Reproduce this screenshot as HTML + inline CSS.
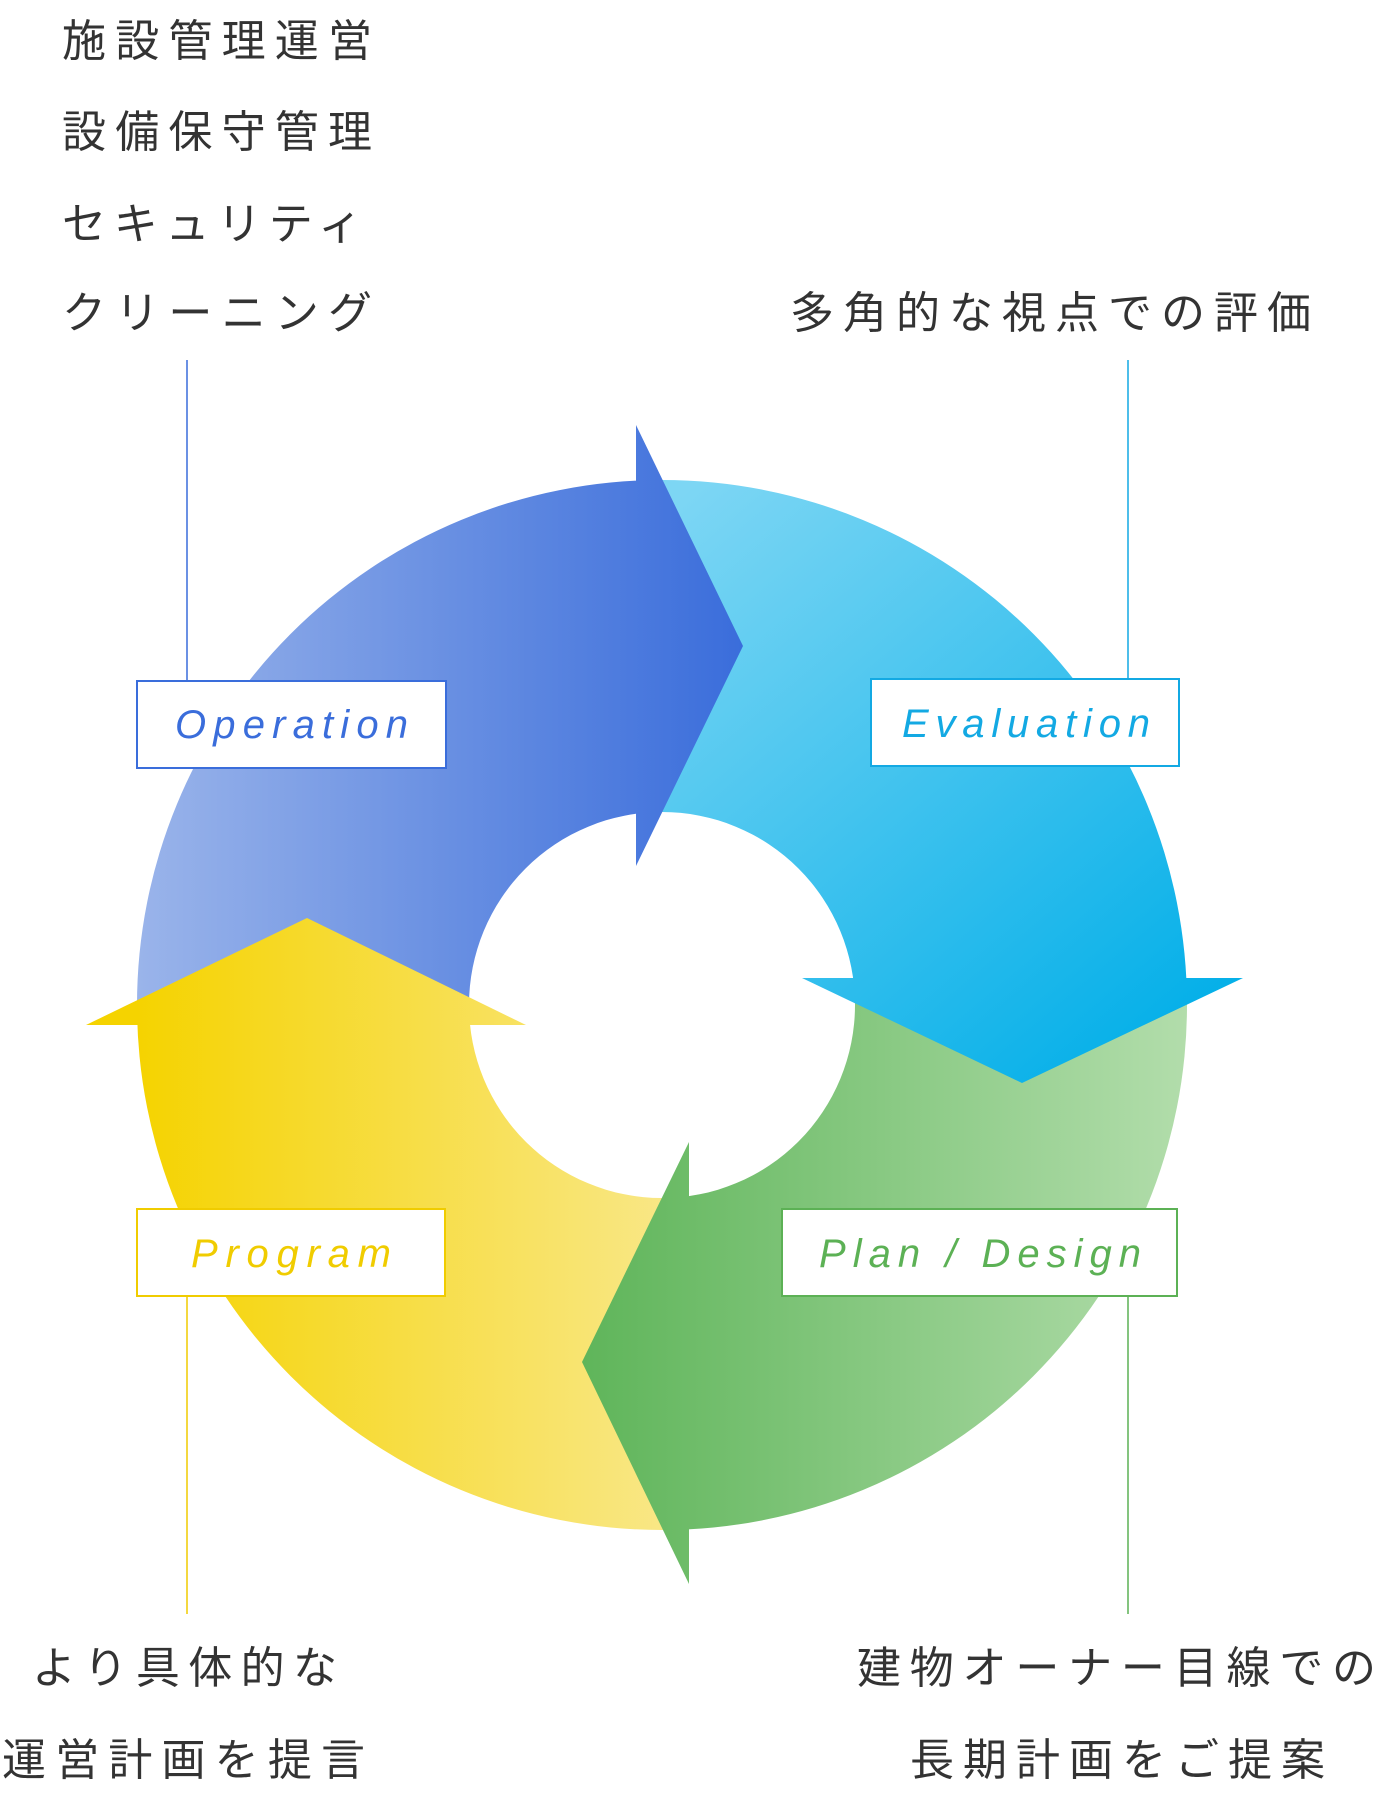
<!DOCTYPE html>
<html><head><meta charset="utf-8"><style>
html,body{margin:0;padding:0;background:#fff;}
svg{display:block;}
.jp{font-family:"Liberation Sans","Noto Sans CJK JP",sans-serif;font-size:44px;fill:#333;}
.en{font-family:"Liberation Sans",sans-serif;font-style:italic;font-size:40px;}
</style></head><body>
<svg width="1382" height="1796" viewBox="0 0 1382 1796" xmlns="http://www.w3.org/2000/svg">
<defs>
<clipPath id="ring" clip-rule="evenodd">
<path clip-rule="evenodd" d="M137,1005a525,525 0 1,0 1050,0a525,525 0 1,0 -1050,0Z M469,1005a193,193 0 1,0 386,0a193,193 0 1,0 -386,0Z"/>
</clipPath>
<linearGradient id="gb" gradientUnits="userSpaceOnUse" x1="137" y1="0" x2="743" y2="0"><stop offset="0" stop-color="#9ab4ea"/><stop offset="1" stop-color="#3a6ddb"/></linearGradient>
<linearGradient id="gc" gradientUnits="userSpaceOnUse" x1="700" y1="480" x2="1187" y2="1060"><stop offset="0" stop-color="#7dd6f4"/><stop offset="1" stop-color="#00aee8"/></linearGradient>
<linearGradient id="gg" gradientUnits="userSpaceOnUse" x1="582" y1="0" x2="1187" y2="0"><stop offset="0" stop-color="#5fb55a"/><stop offset="1" stop-color="#b2ddab"/></linearGradient>
<linearGradient id="gy" gradientUnits="userSpaceOnUse" x1="137" y1="0" x2="689" y2="0"><stop offset="0" stop-color="#f5d300"/><stop offset="1" stop-color="#f9e88c"/></linearGradient>
</defs>
<g clip-path="url(#ring)">
<rect x="0" y="0" width="636" height="1025" fill="url(#gb)"/>
<rect x="636" y="0" width="746" height="978" fill="url(#gc)"/>
<rect x="689" y="978" width="693" height="818" fill="url(#gg)"/>
<rect x="0" y="1025" width="689" height="771" fill="url(#gy)"/>
</g>
<polygon points="636,425 743,646 636,866" fill="url(#gb)"/>
<polygon points="802,978 1243,978 1022,1083" fill="url(#gc)"/>
<polygon points="689,1142 689,1584 582,1362" fill="url(#gg)"/>
<polygon points="86,1025 526,1025 307,918" fill="url(#gy)"/>

<line x1="187" y1="360" x2="187" y2="680" stroke="#3a6ddb" stroke-width="1.5"/>
<line x1="1128" y1="360" x2="1128" y2="678" stroke="#13a9e3" stroke-width="1.5"/>
<line x1="187" y1="1296" x2="187" y2="1614" stroke="#f0cc00" stroke-width="1.5"/>
<line x1="1128" y1="1296" x2="1128" y2="1614" stroke="#5cb155" stroke-width="1.5"/>

<rect x="137" y="681" width="309" height="87" fill="#fff" stroke="#3a6ddb" stroke-width="2"/>
<text class="en" x="175" y="738" fill="#3a6ddb" textLength="233" lengthAdjust="spacing">Operation</text>
<rect x="871" y="679" width="308" height="87" fill="#fff" stroke="#13a9e3" stroke-width="2"/>
<text class="en" x="902" y="737" fill="#13a9e3" textLength="248" lengthAdjust="spacing">Evaluation</text>
<rect x="137" y="1209" width="308" height="87" fill="#fff" stroke="#f0cc00" stroke-width="2"/>
<text class="en" x="191" y="1267" fill="#f0cc00" textLength="200" lengthAdjust="spacing">Program</text>
<rect x="782" y="1209" width="395" height="87" fill="#fff" stroke="#5cb155" stroke-width="2"/>
<text class="en" x="819" y="1267" fill="#5cb155" textLength="322" lengthAdjust="spacing">Plan / Design</text>

<text class="jp" x="62" y="56" textLength="310" lengthAdjust="spacing">施設管理運営</text>
<text class="jp" x="62" y="147" textLength="310" lengthAdjust="spacing">設備保守管理</text>
<text class="jp" x="62" y="239" textLength="300" lengthAdjust="spacing">セキュリティ</text>
<text class="jp" x="62" y="328" textLength="310" lengthAdjust="spacing">クリーニング</text>
<text class="jp" x="790" y="328" textLength="521" lengthAdjust="spacing">多角的な視点での評価</text>
<text class="jp" x="32" y="1683" textLength="305" lengthAdjust="spacing">より具体的な</text>
<text class="jp" x="2" y="1775" textLength="363" lengthAdjust="spacing">運営計画を提言</text>
<text class="jp" x="857" y="1683" textLength="519" lengthAdjust="spacing">建物オーナー目線での</text>
<text class="jp" x="910" y="1775" textLength="415" lengthAdjust="spacing">長期計画をご提案</text>
</svg>
</body></html>
